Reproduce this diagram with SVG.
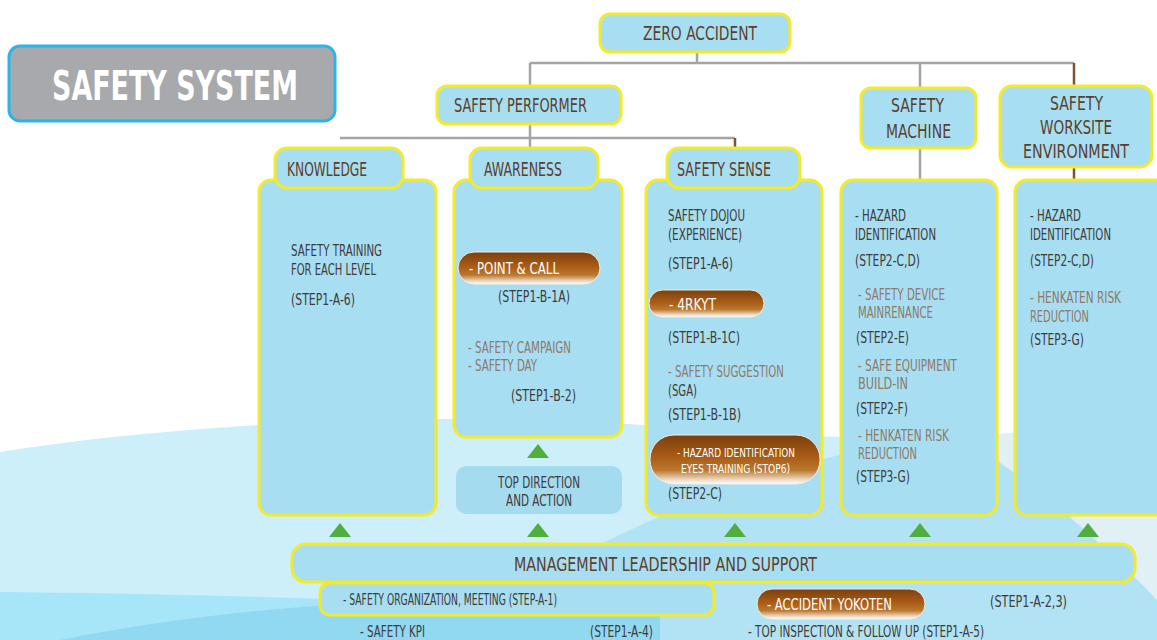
<svg xmlns="http://www.w3.org/2000/svg" width="1157" height="640" viewBox="0 0 1157 640">
<defs>
<linearGradient id="brown" x1="0" y1="0" x2="0" y2="1">
<stop offset="0" stop-color="#7c3f0d"/>
<stop offset="0.45" stop-color="#a95c16"/>
<stop offset="0.72" stop-color="#bb782f"/>
<stop offset="0.9" stop-color="#ead4bc"/>
<stop offset="1" stop-color="#ffffff"/>
</linearGradient>
<style>
.box{fill:#a8def2;stroke:#f2ea2a;stroke-width:3}
.plain{fill:#a4dbee}
.pill{fill:url(#brown);stroke:#f3ece4;stroke-width:1}
text{font-family:"DejaVu Sans","Liberation Sans",sans-serif;font-stretch:condensed}
.h{font-size:20px;fill:#5a3f2c}
.t{font-size:15px;fill:#3f3b38}
.g{font-size:15px;fill:#8d7a69}
.w{font-size:16px;fill:#ffffff}
.conn{stroke:#a4a4a4;stroke-width:2.5;fill:none}
.cb{stroke:#7a5535}
.tri{fill:#4fae3e}
</style>
</defs>
<!-- background -->
<rect x="0" y="0" width="1157" height="640" fill="#ffffff"/>
<path d="M0,452 C200,420 480,410 680,428 C800,440 900,436 1000,440 L1157,432 L1157,640 L0,640 Z" fill="#cdeffa"/>
<path d="M960,438 C1050,428 1157,420 1157,420 L1157,600 C1100,570 1040,540 990,512 Z" fill="#e1f0f4"/>
<path d="M560,565 C700,490 850,440 960,438 C1020,470 1100,540 1157,600 L1157,640 L560,640 Z" fill="#b2e3f4"/>
<path d="M0,592 C200,594 400,600 620,612 L620,640 L0,640 Z" fill="#a7e5f8"/>
<path d="M60,640 C150,622 250,610 330,605 C450,600 560,604 660,612 L660,640 Z" fill="#90d9f0"/>

<!-- title -->
<g id="title">
<rect x="9" y="46" width="326" height="75" rx="11" fill="#a7a9ac" stroke="#2bb5e6" stroke-width="3"/>
<text x="52" y="100" font-size="41" font-weight="bold" fill="#ffffff" textLength="246" lengthAdjust="spacingAndGlyphs">SAFETY SYSTEM</text>
</g>

<!-- connectors -->
<g id="connectors">
<path class="conn" d="M697,52 V63 M530,63 H1074 M530,63 V86 M920,63 V88 M920,148 V180 M530,124 V148 M340,138 H735"/>
<path class="conn cb" d="M1074,63 V86 M1074,167 V180 M735,138 V150"/>
</g>

<g id="zero-accident">
<rect class="box" x="600" y="14" width="190" height="38" rx="10"/>
<text class="h" x="643" y="40" textLength="114" lengthAdjust="spacingAndGlyphs">ZERO ACCIDENT</text>
</g>

<g id="safety-performer">
<rect class="box" x="437" y="86" width="184" height="38" rx="10"/>
<text class="h" x="454" y="112" textLength="133" lengthAdjust="spacingAndGlyphs">SAFETY PERFORMER</text>
</g>

<g id="safety-machine">
<rect class="box" x="861" y="88" width="115" height="60" rx="10"/>
<text class="h" x="891" y="112" textLength="53" lengthAdjust="spacingAndGlyphs">SAFETY</text>
<text class="h" x="886" y="138" textLength="65" lengthAdjust="spacingAndGlyphs">MACHINE</text>
</g>

<g id="safety-worksite">
<rect class="box" x="1000" y="86" width="152" height="81" rx="12"/>
<text class="h" x="1050" y="110" textLength="53" lengthAdjust="spacingAndGlyphs">SAFETY</text>
<text class="h" x="1040" y="134" textLength="72" lengthAdjust="spacingAndGlyphs">WORKSITE</text>
<text class="h" x="1023" y="158" textLength="106" lengthAdjust="spacingAndGlyphs">ENVIRONMENT</text>
</g>

<!-- Knowledge column -->
<g id="knowledge">
<rect class="box" x="259" y="180" width="177" height="335" rx="12"/>
<rect class="box" x="275" y="148" width="128" height="40" rx="12"/>
<text class="h" x="287" y="176" textLength="80" lengthAdjust="spacingAndGlyphs">KNOWLEDGE</text>
<text class="t" x="291" y="256" textLength="91" lengthAdjust="spacingAndGlyphs">SAFETY TRAINING</text>
<text class="t" x="291" y="275" textLength="85" lengthAdjust="spacingAndGlyphs">FOR EACH LEVEL</text>
<text class="t" x="291" y="305" textLength="64" lengthAdjust="spacingAndGlyphs">(STEP1-A-6)</text>
</g>

<!-- Awareness column -->
<g id="awareness">
<rect class="box" x="454" y="180" width="168" height="257" rx="12"/>
<rect class="box" x="470" y="148" width="128" height="40" rx="12"/>
<text class="h" x="484" y="176" textLength="78" lengthAdjust="spacingAndGlyphs">AWARENESS</text>
<rect class="pill" x="458" y="252" width="142" height="32" rx="16"/>
<text class="w" x="469" y="274" textLength="90" lengthAdjust="spacingAndGlyphs">- POINT &amp; CALL</text>
<text class="t" x="498" y="302" textLength="72" lengthAdjust="spacingAndGlyphs">(STEP1-B-1A)</text>
<text class="g" x="468" y="353" textLength="103" lengthAdjust="spacingAndGlyphs">- SAFETY CAMPAIGN</text>
<text class="g" x="468" y="371" textLength="69" lengthAdjust="spacingAndGlyphs">- SAFETY DAY</text>
<text class="t" x="511" y="401" textLength="65" lengthAdjust="spacingAndGlyphs">(STEP1-B-2)</text>
</g>

<g id="top-direction">
<rect class="plain" x="456" y="466" width="166" height="48" rx="10"/>
<text class="t" x="498" y="488" textLength="82" lengthAdjust="spacingAndGlyphs">TOP DIRECTION</text>
<text class="t" x="506" y="506" textLength="66" lengthAdjust="spacingAndGlyphs">AND ACTION</text>
</g>

<!-- Safety sense column -->
<g id="safety-sense">
<rect class="box" x="646" y="180" width="176" height="335" rx="12"/>
<rect class="box" x="667" y="148" width="133" height="40" rx="12"/>
<text class="h" x="677" y="176" textLength="94" lengthAdjust="spacingAndGlyphs">SAFETY SENSE</text>
<text class="t" x="668" y="221" textLength="77" lengthAdjust="spacingAndGlyphs">SAFETY DOJOU</text>
<text class="t" x="668" y="240" textLength="74" lengthAdjust="spacingAndGlyphs">(EXPERIENCE)</text>
<text class="t" x="668" y="269" textLength="65" lengthAdjust="spacingAndGlyphs">(STEP1-A-6)</text>
<rect class="pill" x="649" y="290" width="115" height="27" rx="13.5"/>
<text class="w" x="669" y="310" textLength="47" lengthAdjust="spacingAndGlyphs">- 4RKYT</text>
<text class="t" x="668" y="343" textLength="72" lengthAdjust="spacingAndGlyphs">(STEP1-B-1C)</text>
<text class="g" x="668" y="377" textLength="116" lengthAdjust="spacingAndGlyphs">- SAFETY SUGGESTION</text>
<text class="t" x="668" y="396" textLength="29" lengthAdjust="spacingAndGlyphs">(SGA)</text>
<text class="t" x="668" y="420" textLength="73" lengthAdjust="spacingAndGlyphs">(STEP1-B-1B)</text>
<rect class="pill" x="650" y="435" width="170" height="49" rx="24"/>
<text x="677" y="457" font-size="13" fill="#ffffff" textLength="118" lengthAdjust="spacingAndGlyphs">- HAZARD IDENTIFICATION</text>
<text x="681" y="473" font-size="13" fill="#ffffff" textLength="109" lengthAdjust="spacingAndGlyphs">EYES TRAINING (STOP6)</text>
<text class="t" x="668" y="499" textLength="54" lengthAdjust="spacingAndGlyphs">(STEP2-C)</text>
</g>

<!-- Machine column -->
<g id="machine-detail">
<rect class="box" x="841" y="180" width="156" height="335" rx="12"/>
<text class="t" x="855" y="221" textLength="51" lengthAdjust="spacingAndGlyphs">- HAZARD</text>
<text class="t" x="855" y="240" textLength="81" lengthAdjust="spacingAndGlyphs">IDENTIFICATION</text>
<text class="t" x="855" y="266" textLength="65" lengthAdjust="spacingAndGlyphs">(STEP2-C,D)</text>
<text class="g" x="858" y="300" textLength="87" lengthAdjust="spacingAndGlyphs">- SAFETY DEVICE</text>
<text class="g" x="858" y="318" textLength="75" lengthAdjust="spacingAndGlyphs">MAINRENANCE</text>
<text class="t" x="856" y="343" textLength="53" lengthAdjust="spacingAndGlyphs">(STEP2-E)</text>
<text class="g" x="858" y="371" textLength="99" lengthAdjust="spacingAndGlyphs">- SAFE EQUIPMENT</text>
<text class="g" x="858" y="389" textLength="50" lengthAdjust="spacingAndGlyphs">BUILD-IN</text>
<text class="t" x="856" y="414" textLength="52" lengthAdjust="spacingAndGlyphs">(STEP2-F)</text>
<text class="g" x="858" y="441" textLength="91" lengthAdjust="spacingAndGlyphs">- HENKATEN RISK</text>
<text class="g" x="858" y="459" textLength="59" lengthAdjust="spacingAndGlyphs">REDUCTION</text>
<text class="t" x="856" y="482" textLength="54" lengthAdjust="spacingAndGlyphs">(STEP3-G)</text>
</g>

<!-- Worksite column -->
<g id="worksite-detail">
<rect class="box" x="1015" y="180" width="160" height="335" rx="12"/>
<text class="t" x="1030" y="221" textLength="51" lengthAdjust="spacingAndGlyphs">- HAZARD</text>
<text class="t" x="1030" y="240" textLength="81" lengthAdjust="spacingAndGlyphs">IDENTIFICATION</text>
<text class="t" x="1030" y="266" textLength="64" lengthAdjust="spacingAndGlyphs">(STEP2-C,D)</text>
<text class="g" x="1030" y="303" textLength="91" lengthAdjust="spacingAndGlyphs">- HENKATEN RISK</text>
<text class="g" x="1030" y="322" textLength="59" lengthAdjust="spacingAndGlyphs">REDUCTION</text>
<text class="t" x="1030" y="345" textLength="54" lengthAdjust="spacingAndGlyphs">(STEP3-G)</text>
</g>

<!-- arrows -->
<g id="arrows">
<polygon class="tri" points="527,458 549,458 538,444"/>
<polygon class="tri" points="329,537 351,537 340,523"/>
<polygon class="tri" points="527,537 549,537 538,523"/>
<polygon class="tri" points="724,537 746,537 735,523"/>
<polygon class="tri" points="909,537 931,537 920,523"/>
<polygon class="tri" points="1077,537 1099,537 1088,523"/>
</g>

<g id="management">
<rect class="box" x="292" y="544" width="843" height="38" rx="14"/>
<text class="h" x="514" y="571" textLength="303" lengthAdjust="spacingAndGlyphs">MANAGEMENT LEADERSHIP AND SUPPORT</text>
</g>

<g id="safety-organization">
<rect class="box" x="320" y="583" width="394" height="32" rx="10"/>
<text class="t" x="343" y="605" textLength="214" lengthAdjust="spacingAndGlyphs">- SAFETY ORGANIZATION, MEETING (STEP-A-1)</text>
</g>

<g id="accident-yokoten">
<rect class="pill" x="757" y="589" width="168" height="30" rx="15"/>
<text class="w" x="767" y="610" textLength="125" lengthAdjust="spacingAndGlyphs">- ACCIDENT YOKOTEN</text>
<text class="t" x="990" y="607" textLength="77" lengthAdjust="spacingAndGlyphs">(STEP1-A-2,3)</text>
</g>

<g id="bottom-items">
<text class="t" x="360" y="637" textLength="65" lengthAdjust="spacingAndGlyphs">- SAFETY KPI</text>
<text class="t" x="590" y="637" textLength="63" lengthAdjust="spacingAndGlyphs">(STEP1-A-4)</text>
<text class="t" x="748" y="637" textLength="236" lengthAdjust="spacingAndGlyphs">- TOP INSPECTION &amp; FOLLOW UP  (STEP1-A-5)</text>
</g>
</svg>
